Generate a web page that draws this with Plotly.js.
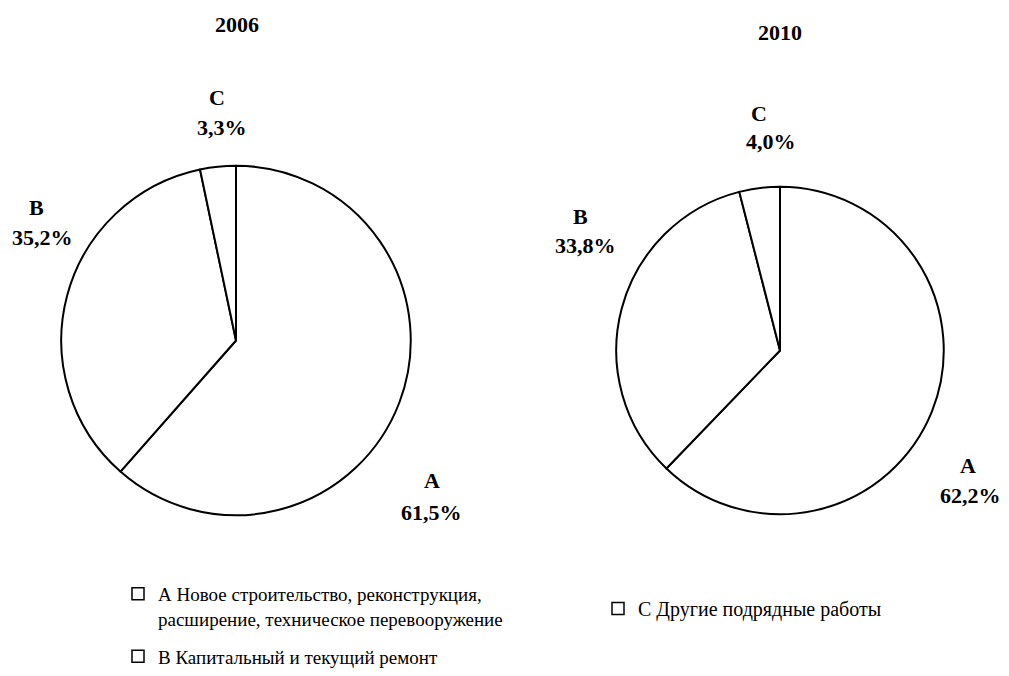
<!DOCTYPE html>
<html>
<head>
<meta charset="utf-8">
<script src="https://cdn.plot.ly/plotly-3.0.1.min.js"></script>
</head>
<body style="margin:0">
<div id="chart"></div>
<script>
// ---- data ----
const categories = ['A', 'B', 'C'];
const years = ['2006', '2010'];
const values2006 = [61.5, 35.2, 3.3];
const values2010 = [62.2, 33.8, 4.0];
const legendNames = [
  'А Новое строительство, реконструкция,<br>расширение, техническое перевооружение',
  'В Капитальный и текущий ремонт',
  'С Другие подрядные работы'
];

// ---- styling / layout ----
const W = 1009, H = 676;
const FONT = 'Liberation Serif';
const px = x => x / W;
const py = y => 1 - y / H;
const fmt = v => v.toFixed(1).replace('.', ',') + '%';

function pieTrace(values, domainPx) {
  return {
    type: 'pie',
    labels: categories,
    values: values,
    sort: false,
    direction: 'clockwise',
    rotation: 0,
    textinfo: 'none',
    hoverinfo: 'label+value',
    showlegend: false,
    marker: { colors: categories.map(() => '#ffffff'), line: { color: '#000000', width: 2 } },
    domain: {
      x: [px(domainPx.cx - domainPx.r), px(domainPx.cx + domainPx.r)],
      y: [py(domainPx.cy + domainPx.r), py(domainPx.cy - domainPx.r)]
    }
  };
}

const traces = [
  pieTrace(values2006, { cx: 236, cy: 341, r: 175 }),
  pieTrace(values2010, { cx: 780, cy: 351, r: 164 })
];

// legend-only marker traces
legendNames.forEach((name, i) => {
  traces.push({
    type: 'scatter', mode: 'markers', x: [null], y: [null],
    name: name,
    legend: i === 2 ? 'legend2' : 'legend',
    legendgroup: 'g' + i,
    marker: { symbol: 'square', size: 12, color: '#ffffff', line: { color: '#000000', width: 1.5 } },
    hoverinfo: 'skip'
  });
});

// label positions (pixels) for categories A, B, C: [letter x,y, percent x,y]
const labelPos = [
  [ [432, 481, 431, 513], [36, 208, 42, 238], [217, 98, 222, 128] ],
  [ [968, 466, 970, 496], [580, 217, 585, 246], [759, 114, 771, 142] ]
];
const titlePos = [[237, 25], [780, 33]];
const allValues = [values2006, values2010];

const annotations = [];
const boldFont = { family: FONT, size: 22, color: '#000000', weight: 'bold' };
years.forEach((yr, p) => {
  annotations.push({
    text: yr, xref: 'paper', yref: 'paper',
    x: px(titlePos[p][0]), y: py(titlePos[p][1]),
    xanchor: 'center', yanchor: 'middle', showarrow: false, font: boldFont
  });
  categories.forEach((c, i) => {
    const lp = labelPos[p][i];
    annotations.push({
      text: c, xref: 'paper', yref: 'paper',
      x: px(lp[0]), y: py(lp[1]), xanchor: 'center', yanchor: 'middle',
      showarrow: false, font: boldFont
    });
    annotations.push({
      text: fmt(allValues[p][i]), xref: 'paper', yref: 'paper',
      x: px(lp[2]), y: py(lp[3]), xanchor: 'center', yanchor: 'middle',
      showarrow: false, font: boldFont
    });
  });
});

const layout = {
  width: W, height: H,
  margin: { l: 0, r: 0, t: 0, b: 0 },
  paper_bgcolor: '#ffffff', plot_bgcolor: '#ffffff',
  font: { family: FONT, color: '#000000' },
  xaxis: { visible: false, range: [0, 1] },
  yaxis: { visible: false, range: [0, 1] },
  annotations: annotations,
  legend: {
    x: px(118), y: py(576), xanchor: 'left', yanchor: 'top',
    orientation: 'v', valign: 'top',
    font: { family: FONT, size: 19, color: '#000000' },
    bgcolor: 'rgba(0,0,0,0)', tracegroupgap: 10
  },
  legend2: {
    x: px(598), y: py(589), xanchor: 'left', yanchor: 'top',
    orientation: 'v', valign: 'top',
    font: { family: FONT, size: 20, color: '#000000' },
    bgcolor: 'rgba(0,0,0,0)'
  },
  showlegend: true
};

Plotly.newPlot('chart', traces, layout, { displayModeBar: false });
</script>
</body>
</html>
